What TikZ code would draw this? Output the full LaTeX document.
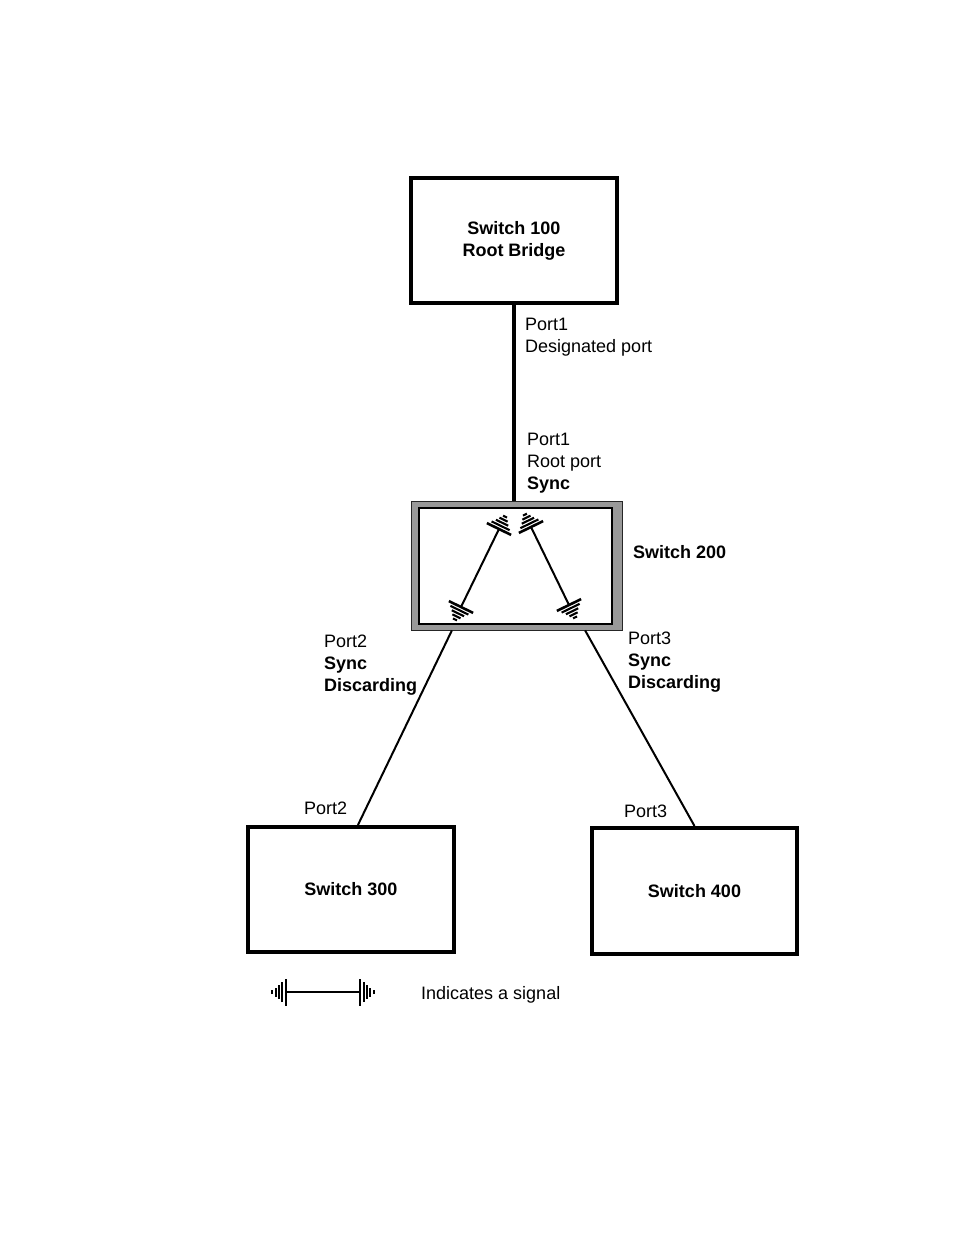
\documentclass[tikz,border=0pt]{standalone}
\usepackage{fontspec}
\setmainfont{Liberation Sans}
\usetikzlibrary{calc}
\tikzset{
  sigL/.pic={
    \draw[line width=2.6pt] (0pt,-13.5pt) -- (0pt,13.5pt);
    \foreach \o/\h in {3.6/10,7/6.8,10.4/4.5,13.8/2.2}{
      \draw[line width=2.1pt] (-\o pt,-\h pt) -- (-\o pt,\h pt);}
  },
  sigR/.pic={
    \draw[line width=2.6pt] (0pt,-13.5pt) -- (0pt,13.5pt);
    \foreach \o/\h in {3.6/10,7/6.8,10.4/4.5,13.8/2.2}{
      \draw[line width=2.1pt] (\o pt,-\h pt) -- (\o pt,\h pt);}
  },
}
\begin{document}
\begin{tikzpicture}[x=1pt,y=-1pt,
  box/.style={draw, line width=4pt, minimum width=206pt, minimum height=125pt,
    inner sep=0pt, font=\fontsize{18}{22}\selectfont\bfseries, align=center},
  lbl/.style={anchor=north west, inner sep=0pt, align=left,
    font=\fontsize{18}{22}\selectfont},
  wire/.style={line width=2pt},
  sigline/.style={line width=2pt},
  mk/.style={sloped, allow upside down}
]
\useasboundingbox (0,0) rectangle (954,1235);

% switches
\node[box] (s100) at (514,240.5) {Switch 100\\Root Bridge};
\node[box] (s300) at (351,889.5) {Switch 300};
\node[box, minimum width=205pt, minimum height=126pt] (s400) at (694.5,891) {Switch 400};
\node[draw=black!85, line width=0.8pt, fill=black!40, minimum width=211pt,
  minimum height=129pt, inner sep=0pt] (s200) at (516.5,565.5) {};
\node[draw, line width=2.5pt, fill=white, minimum width=193pt,
  minimum height=116pt, inner sep=0pt] (s200in) at (515.5,566) {};

% connectors
\draw[line width=3.5pt] (s100.south) -- (s100.south |- s200.north);
\draw[wire] ($(s200.south west)!0.195!(s200.south east)$) -- ($(s300.north west)!0.533!(s300.north east)$);
\draw[wire] ($(s200.south west)!0.824!(s200.south east)$) -- (s400.north);

% signals inside switch 200
\coordinate (a1) at (461,607);
\coordinate (a2) at (499,529);
\coordinate (b1) at (531,527);
\coordinate (b2) at (569,605);
\draw[sigline] (a1) -- (a2) pic[pos=0,mk]{sigL} pic[pos=1,mk]{sigR};
\draw[sigline] (b1) -- (b2) pic[pos=0,mk]{sigL} pic[pos=1,mk]{sigR};

% legend
\coordinate (l1) at (286,992);
\coordinate (l2) at (360,992);
\draw[sigline] (l1) -- (l2) pic[pos=0,mk]{sigL} pic[pos=1,mk]{sigR};
\node[lbl] (leg) at (421,986.5) {Indicates a signal};

% labels
\node[lbl] (p1d) at (525,317.5) {Port1\\Designated port};
\node[lbl] (p1r) at (527,432.5) {Port1\\Root port\\\textbf{Sync}};
\node[lbl, font=\fontsize{18}{22}\selectfont\bfseries] (n200) at (633,545.5) {Switch 200};
\node[lbl] (p2) at (324,634.5) {Port2\\\textbf{Sync}\\\textbf{Discarding}};
\node[lbl] (p3) at (628,631.5) {Port3\\\textbf{Sync}\\\textbf{Discarding}};
\node[lbl] (p2b) at (304,801.5) {Port2};
\node[lbl] (p3b) at (624,804.5) {Port3};
\end{tikzpicture}
\end{document}
